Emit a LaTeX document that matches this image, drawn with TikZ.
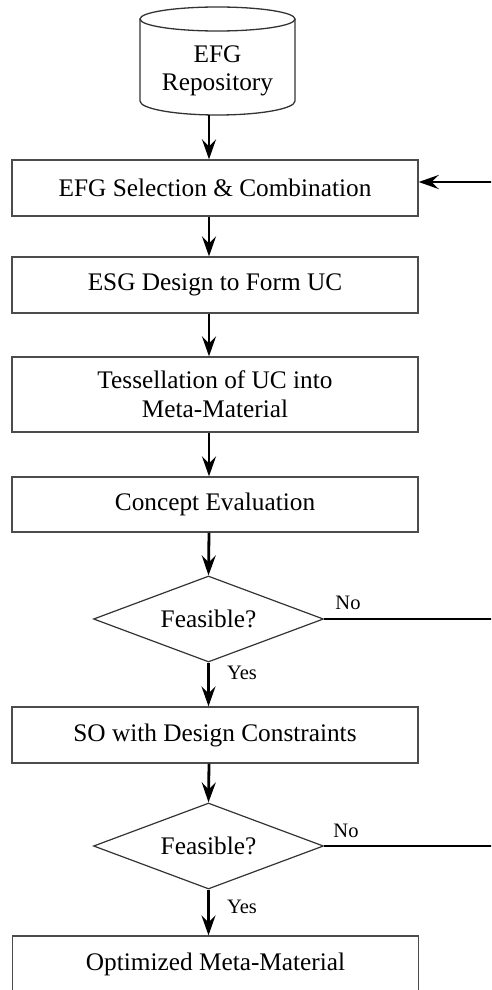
\documentclass[tikz,border=0pt]{standalone}
\usepackage{fontspec}
\setmainfont{Liberation Serif}
\usetikzlibrary{shapes.geometric,arrows.meta}
\begin{document}
\begin{tikzpicture}[x=1pt,y=-1pt,
 box/.style={draw=black!70, line width=1.3pt, minimum width=406pt, inner sep=0pt, font=\fontsize{25.3}{29}\selectfont, align=center},
 dia/.style={draw=black!80, line width=1.2pt, shape=diamond, aspect=2.67, minimum width=230pt, minimum height=86pt, inner sep=0pt, font=\fontsize{25.3}{29}\selectfont},
 flow/.style={line width=2.8pt, -{Stealth[length=20pt,width=14pt,inset=7pt]}},
 ret/.style={line width=2.8pt},
 lbl/.style={font=\fontsize{20.5}{24}\selectfont, inner sep=0pt},
 cyl/.style={draw=black!80, line width=1.3pt}]
\useasboundingbox (0,0) rectangle (491,990);
\clip (0,0) rectangle (491,990);
% cylinder
\draw[cyl] (217.5,19) ellipse [x radius=77.5, y radius=12];
\draw[cyl] (140,19) -- (140,101) arc[start angle=180, end angle=0, x radius=77.5, y radius=14] -- (295,19);
\node[inner sep=0pt, minimum width=155pt, minimum height=88pt, align=center, font=\fontsize{25.3}{28.5}\selectfont] (repo) at (217.5,71) {EFG\\Repository};
\coordinate (ax) at (209,0);
\coordinate (edge) at (495,0);
% boxes
\node[box, minimum height=56pt] (b1) at (215,188) {EFG Selection \& Combination};
\node[box, minimum height=56pt] (b2) at (215,285) {ESG Design to Form UC};
\node[box, minimum height=75pt] (b3) at (215,394.5) {Tessellation of UC into\\Meta-Material};
\node[box, minimum height=55pt] (b4) at (215,504.5) {Concept Evaluation};
\node[dia] (d1) at (208.5,619) {Feasible?};
\node[box, minimum height=56pt] (b5) at (215,735) {SO with Design Constraints};
\node[dia] (d2) at (208.5,846) {Feasible?};
\node[box, minimum height=56pt] (b6) at (215.5,964) {Optimized Meta-Material};
% arrows
\draw[flow] (repo.south -| ax) -- (b1.north -| ax);
\draw[flow] (b1.south -| ax) -- (b2.north -| ax);
\draw[flow] (b2.south -| ax) -- (b3.north -| ax);
\draw[flow] (b3.south -| ax) -- (b4.north -| ax);
\draw[flow] (b4.south -| ax) -- (d1.north);
\draw[flow] (d1.south) -- (b5.north -| d1.south);
\draw[flow] (b5.south -| ax) -- (d2.north);
\draw[flow] (d2.south) -- (b6.north -| d2.south);
\coordinate (in1) at (495,182);
\draw[flow] (in1) -- (in1 -| b1.east);
\draw[ret] (d1.east) -- (d1.east -| edge);
\draw[ret] (d2.east) -- (d2.east -| edge);
% labels
\node[lbl] (no1) at (348,603) {No};
\node[lbl] (yes1) at (242,673) {Yes};
\node[lbl] (no2) at (346,831) {No};
\node[lbl] (yes2) at (242,907) {Yes};
\end{tikzpicture}
\end{document}
